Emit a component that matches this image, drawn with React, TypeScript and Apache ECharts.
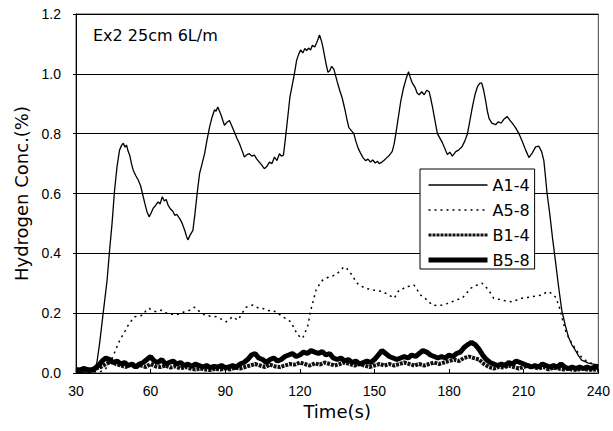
import React, { useEffect, useRef } from "react";
import * as echarts from "echarts";

const titleText = "Ex2 25cm 6L/m";
const xName = "Time(s)";
const yName = "Hydrogen Conc.(%)";
const seriesNames = ["A1-4", "A5-8", "B1-4", "B5-8"];

// A1-4 : [time (s), concentration (%)]
const a14: [number, number][] = [
  [30, 0.003], [32, 0.002], [34, 0.004], [36, 0.003], [37.5, 0.005], [38.5, 0.04], [39.5, 0.1], [40.5, 0.17],
  [41.5, 0.24], [42.5, 0.31], [43.5, 0.41], [44.5, 0.5], [45.5, 0.61], [46.5, 0.69], [47.5, 0.745], [48.3, 0.76],
  [49, 0.768], [49.7, 0.755], [50.3, 0.762], [51, 0.74], [51.6, 0.728], [52.3, 0.7], [53, 0.678], [54, 0.66],
  [55, 0.645], [56, 0.625], [57, 0.59], [57.7, 0.566], [58.5, 0.54], [59.4, 0.522], [60.2, 0.535], [61, 0.55],
  [62, 0.56], [63, 0.572], [63.8, 0.565], [64.7, 0.589], [65.5, 0.575], [66.3, 0.58], [67, 0.561], [68, 0.548],
  [69, 0.54], [69.7, 0.527], [70.5, 0.53], [71.7, 0.516], [72.7, 0.5], [73.7, 0.477], [74.5, 0.455], [75, 0.445],
  [75.8, 0.46], [77, 0.477], [77.8, 0.53], [78.4, 0.577], [79, 0.62], [79.7, 0.667], [80.7, 0.7], [81.7, 0.733],
  [82.7, 0.78], [83.7, 0.822], [84.7, 0.855], [85.7, 0.88], [86.3, 0.875], [87, 0.889], [87.7, 0.875], [88.4, 0.861],
  [89, 0.845], [89.7, 0.828], [90.7, 0.838], [91.7, 0.844], [92.7, 0.825], [93.7, 0.805], [94.7, 0.785], [95.7, 0.767],
  [96.7, 0.745], [97.7, 0.722], [98.7, 0.73], [99.7, 0.733], [100.7, 0.725], [101.7, 0.728], [102.7, 0.715], [103.7, 0.705],
  [104.7, 0.695], [105.7, 0.683], [106.7, 0.69], [107.8, 0.705], [108.8, 0.7], [109.8, 0.722], [110.8, 0.71], [111.8, 0.733],
  [112.6, 0.725], [113.4, 0.728], [114, 0.77], [114.7, 0.822], [115.4, 0.875], [116, 0.922], [117, 0.965], [117.8, 1.0],
  [118.7, 1.045], [119.5, 1.065], [120.3, 1.08], [121.2, 1.07], [122, 1.085], [122.7, 1.078], [123.5, 1.086], [124.3, 1.08],
  [125, 1.095], [126, 1.09], [126.8, 1.105], [127.4, 1.118], [127.9, 1.13], [128.5, 1.115], [129, 1.1], [129.7, 1.07],
  [130.5, 1.035], [131.3, 1.005], [132, 1.01], [132.8, 1.025], [133.7, 1.015], [134.5, 0.99], [135.3, 0.965], [136.2, 0.94],
  [137, 0.92], [138, 0.885], [139, 0.845], [139.7, 0.82], [140.7, 0.81], [141.7, 0.8], [142.5, 0.775], [143.5, 0.75],
  [144.4, 0.735], [145.4, 0.72], [146.4, 0.71], [147.4, 0.715], [148.4, 0.705], [149.3, 0.712], [150.3, 0.702], [151.2, 0.708],
  [151.9, 0.7], [153, 0.705], [154, 0.712], [155, 0.72], [156, 0.728], [157.1, 0.74], [157.9, 0.765], [158.6, 0.8],
  [159.6, 0.855], [160.6, 0.91], [161.6, 0.95], [162.6, 0.98], [163.2, 0.995], [163.7, 1.007], [164.5, 0.985], [165.3, 0.968],
  [166.3, 0.955], [167.2, 0.935], [168, 0.93], [169, 0.94], [170, 0.93], [171, 0.945], [172, 0.94], [172.7, 0.915],
  [173.3, 0.89], [174.3, 0.845], [175.3, 0.8], [176.3, 0.785], [177.3, 0.77], [178.3, 0.75], [179.3, 0.73], [180.3, 0.738],
  [181.3, 0.725], [182.7, 0.74], [183.8, 0.745], [185.2, 0.756], [186.3, 0.775], [187.4, 0.8], [188.4, 0.845], [189.4, 0.89],
  [190.4, 0.93], [191.4, 0.957], [192.3, 0.968], [193.1, 0.97], [193.9, 0.945], [194.7, 0.91], [195.4, 0.875], [196.1, 0.85],
  [197.2, 0.835], [198.7, 0.83], [199.8, 0.84], [200.9, 0.835], [202, 0.848], [203.4, 0.857], [204.4, 0.845], [205.4, 0.835],
  [206.7, 0.82], [208.1, 0.8], [209.4, 0.775], [210.8, 0.745], [212.1, 0.72], [213.4, 0.735], [214.8, 0.756], [216.1, 0.758],
  [217.2, 0.74], [218.1, 0.71], [218.7, 0.66], [219.4, 0.6], [220.5, 0.53], [221.6, 0.45], [222.7, 0.378], [224, 0.29],
  [225.3, 0.21], [226.7, 0.16], [228, 0.12], [229.3, 0.095], [230.7, 0.077], [232, 0.058], [233.3, 0.043], [234.7, 0.038],
  [236, 0.033], [238, 0.03], [240, 0.027],
];

// A5-8
const a58: [number, number][] = [
  [30, 0.002], [36, 0.003], [40, 0.005], [42, 0.015], [44, 0.04], [45.6, 0.07], [47, 0.1], [48.3, 0.12],
  [49.7, 0.14], [51, 0.16], [52.3, 0.175], [53.6, 0.188], [55.3, 0.19], [57, 0.194], [58.2, 0.21], [59.4, 0.216],
  [60.8, 0.208], [62.3, 0.205], [64.4, 0.21], [66.4, 0.2], [68, 0.198], [69.7, 0.194], [71.7, 0.198], [73.7, 0.205],
  [75.7, 0.21], [77.7, 0.22], [79.7, 0.205], [81.7, 0.194], [84, 0.19], [86.4, 0.188], [88.4, 0.18], [90.4, 0.171],
  [91.7, 0.18], [93, 0.188], [95.1, 0.177], [96.8, 0.2], [98.4, 0.22], [101.1, 0.227], [103.1, 0.218], [105.1, 0.216],
  [107.1, 0.208], [109.1, 0.21], [111.1, 0.2], [113.1, 0.188], [114.7, 0.18], [116.4, 0.171], [117.7, 0.15], [119.1, 0.127],
  [121.1, 0.116], [123.1, 0.155], [124.4, 0.21], [125.5, 0.245], [126.5, 0.277], [127.8, 0.295], [129.1, 0.31], [131.8, 0.322],
  [133.4, 0.325], [135.1, 0.333], [136.5, 0.345], [137.8, 0.355], [138.8, 0.35], [139.8, 0.339], [141.1, 0.327], [142.5, 0.305],
  [143.8, 0.294], [146.5, 0.283], [148.1, 0.28], [149.8, 0.277], [151.5, 0.275], [153.2, 0.272], [155.5, 0.262], [157.9, 0.25],
  [159.9, 0.277], [161.2, 0.28], [162.5, 0.288], [164.2, 0.29], [165.9, 0.294], [167.2, 0.278], [168.6, 0.26], [171.2, 0.244],
  [173.2, 0.227], [175.2, 0.225], [177.2, 0.227], [179.2, 0.232], [181.2, 0.238], [183.2, 0.245], [185.2, 0.25], [186.9, 0.265],
  [188.6, 0.283], [191.2, 0.294], [193.2, 0.3], [194.5, 0.29], [195.9, 0.277], [197.9, 0.25], [199.6, 0.247], [201.3, 0.244],
  [203.3, 0.24], [205.3, 0.238], [207.3, 0.244], [209.3, 0.25], [211.3, 0.252], [213.3, 0.255], [215.3, 0.258], [217.3, 0.26],
  [218.7, 0.268], [220, 0.272], [221.3, 0.265], [222.7, 0.255], [223.7, 0.235], [224.7, 0.21], [225.7, 0.175], [226.7, 0.144],
  [228, 0.12], [229.3, 0.1], [230.7, 0.082], [232, 0.066], [233.3, 0.053], [234.7, 0.043], [236, 0.038], [237.3, 0.032],
  [240, 0.025],
];

// B1-4
const b14: [number, number][] = [
  [30, 0.008], [32, 0.01], [34, 0.008], [36, 0.012], [38, 0.015], [40, 0.02], [42, 0.03], [44, 0.038],
  [46, 0.03], [48, 0.025], [50, 0.02], [52, 0.028], [54, 0.02], [56, 0.025], [58, 0.02], [60, 0.03],
  [62, 0.022], [64, 0.02], [66, 0.025], [68, 0.018], [70, 0.022], [72, 0.015], [74, 0.02], [76, 0.015],
  [78, 0.012], [80, 0.015], [82, 0.012], [84, 0.01], [86, 0.014], [88, 0.012], [90, 0.015], [92, 0.012],
  [94, 0.018], [96, 0.015], [98, 0.02], [100, 0.025], [102, 0.03], [104, 0.025], [106, 0.02], [108, 0.028],
  [110, 0.022], [112, 0.02], [114, 0.025], [116, 0.03], [118, 0.028], [120, 0.035], [122, 0.03], [124, 0.025],
  [126, 0.032], [128, 0.028], [130, 0.035], [132, 0.03], [134, 0.025], [136, 0.03], [138, 0.035], [140, 0.03],
  [142, 0.025], [144, 0.03], [146, 0.025], [148, 0.02], [150, 0.025], [152, 0.03], [154, 0.025], [156, 0.03],
  [158, 0.025], [160, 0.03], [162, 0.035], [164, 0.03], [166, 0.025], [168, 0.03], [170, 0.025], [172, 0.03],
  [174, 0.035], [176, 0.03], [178, 0.035], [180, 0.04], [182, 0.045], [184, 0.04], [186, 0.05], [188, 0.055],
  [190, 0.05], [192, 0.045], [194, 0.03], [196, 0.02], [198, 0.015], [200, 0.02], [202, 0.018], [204, 0.025],
  [206, 0.02], [208, 0.015], [210, 0.02], [212, 0.025], [214, 0.02], [216, 0.015], [218, 0.02], [220, 0.012],
  [222, 0.018], [224, 0.015], [226, 0.012], [228, 0.015], [230, 0.01], [232, 0.012], [234, 0.015], [236, 0.01],
  [238, 0.012], [240, 0.01],
];

// B5-8
const b58: [number, number][] = [
  [30, 0.012], [31.5, 0.01], [33, 0.015], [34.5, 0.012], [36, 0.01], [37.5, 0.015], [39, 0.025], [40.5, 0.04],
  [42, 0.05], [43.5, 0.045], [45, 0.035], [46.5, 0.04], [48, 0.03], [49.5, 0.035], [51, 0.025], [52.5, 0.03],
  [54, 0.02], [55.5, 0.03], [57, 0.035], [58.5, 0.045], [60, 0.055], [61.5, 0.04], [63, 0.035], [64.5, 0.045],
  [66, 0.03], [67.5, 0.035], [69, 0.04], [70.5, 0.03], [72, 0.035], [73.5, 0.025], [75, 0.03], [76.5, 0.022],
  [78, 0.03], [79.5, 0.025], [81, 0.02], [82.5, 0.025], [84, 0.018], [85.5, 0.022], [87, 0.02], [88.5, 0.025],
  [90, 0.018], [91.5, 0.02], [93, 0.025], [94.5, 0.02], [96, 0.03], [97.5, 0.035], [99, 0.045], [100.5, 0.06],
  [102, 0.065], [103.5, 0.05], [105, 0.045], [106.5, 0.035], [108, 0.045], [109.5, 0.05], [111, 0.04], [112.5, 0.045],
  [114, 0.055], [115.5, 0.06], [117, 0.065], [118.5, 0.055], [120, 0.06], [121.5, 0.07], [123, 0.065], [124.5, 0.075],
  [126, 0.07], [127.5, 0.065], [129, 0.072], [130.5, 0.06], [132, 0.065], [133.5, 0.05], [135, 0.045], [136.5, 0.05],
  [138, 0.04], [139.5, 0.045], [141, 0.035], [142.5, 0.04], [144, 0.03], [145.5, 0.035], [147, 0.04], [148.5, 0.035],
  [150, 0.045], [151.5, 0.06], [153, 0.075], [154.5, 0.065], [156, 0.055], [157.5, 0.05], [159, 0.045], [160.5, 0.05],
  [162, 0.055], [163.5, 0.05], [165, 0.06], [166.5, 0.055], [168, 0.065], [169.5, 0.075], [171, 0.07], [172.5, 0.06],
  [174, 0.055], [175.5, 0.05], [177, 0.055], [178.5, 0.05], [180, 0.06], [181.5, 0.055], [183, 0.065], [184.5, 0.07],
  [186, 0.085], [187.5, 0.095], [189, 0.102], [190.5, 0.095], [192, 0.08], [193.5, 0.06], [195, 0.045], [196.5, 0.035],
  [198, 0.03], [199.5, 0.025], [201, 0.03], [202.5, 0.025], [204, 0.035], [205.5, 0.03], [207, 0.04], [208.5, 0.035],
  [210, 0.03], [211.5, 0.025], [213, 0.02], [214.5, 0.025], [216, 0.02], [217.5, 0.03], [219, 0.025], [220.5, 0.02],
  [222, 0.025], [223.5, 0.02], [225, 0.03], [226.5, 0.02], [228, 0.015], [229.5, 0.02], [231, 0.015], [232.5, 0.02],
  [234, 0.015], [235.5, 0.02], [237, 0.015], [238.5, 0.02], [240, 0.018],
];

const xMin = 30;
const xMax = 240;
const xStep = 30;
const yMin = 0;
const yMax = 1.2;
const yStep = 0.2;

export default function App() {
  const ref = useRef<HTMLDivElement>(null);
  useEffect(() => {
    if (!ref.current) return;
    const chart = echarts.init(ref.current, null, { renderer: "svg" });
    const seriesData = [a14, a58, b14, b58];
    const lineStyles = [
      { color: "#000", width: 1.3, type: "solid" as any },
      { color: "#000", width: 1.5, type: [2, 4] as any },
      { color: "#111", width: 4, type: [3, 1] as any },
      { color: "#000", width: 5, type: "solid" as any },
    ];
    const legendLineWidths = [1.3, 1.5, 3, 5];
    chart.setOption({
      animation: false,
      backgroundColor: "#fff",
      title: {
        text: titleText,
        left: 93,
        top: 27,
        padding: 0,
        textStyle: { fontFamily: "DejaVu Sans", fontSize: 16, fontWeight: "normal", color: "#000" },
      },
      grid: {
        left: 76,
        right: 13,
        top: 14,
        bottom: 58,
        show: true,
        borderColor: "#444",
        borderWidth: 1,
        backgroundColor: "transparent",
      },
      legend: {
        orient: "vertical",
        left: 420,
        top: 169,
        padding: [8, 5, 1, 6],
        itemWidth: 59,
        itemHeight: 16,
        itemGap: 9,
        backgroundColor: "#fff",
        borderColor: "#000",
        borderWidth: 1,
        borderRadius: 0,
        data: seriesNames.map((n, i) => ({
          name: n,
          lineStyle: { width: legendLineWidths[i] },
        })),
        itemStyle: { opacity: 0 },
        textStyle: { fontFamily: "DejaVu Sans", fontSize: 16, color: "#000", lineHeight: 16 },
      },
      xAxis: {
        type: "value",
        min: xMin,
        max: xMax,
        interval: xStep,
        name: xName,
        nameLocation: "middle",
        nameGap: 26,
        nameTextStyle: { fontFamily: "DejaVu Sans", fontSize: 18, color: "#000" },
        axisLine: { show: true, lineStyle: { color: "#000", width: 1 } },
        axisTick: { show: true, inside: true, length: 4, lineStyle: { color: "#000" } },
        axisLabel: { fontFamily: "Liberation Sans", fontSize: 14, color: "#000", margin: 11 },
        splitLine: { show: false },
      },
      yAxis: {
        type: "value",
        min: yMin,
        max: yMax,
        interval: yStep,
        name: yName,
        nameLocation: "middle",
        nameGap: 45,
        nameTextStyle: { fontFamily: "DejaVu Sans", fontSize: 18, color: "#000" },
        axisLine: { show: true, lineStyle: { color: "#000", width: 1 } },
        axisTick: { show: true, length: 3, lineStyle: { color: "#000" } },
        axisLabel: {
          fontFamily: "Liberation Sans",
          fontSize: 14,
          color: "#000",
          margin: 15,
          formatter: (v: number) => v.toFixed(1),
        },
        splitLine: { show: true, lineStyle: { color: "#000", width: 1 } },
      },
      series: seriesNames.map((name, i) => ({
        name,
        type: "line",
        data: seriesData[i],
        symbol: "none",
        showSymbol: false,
        lineStyle: lineStyles[i],
        itemStyle: { color: "#000" },
        z: 2 + i,
      })),
    });
    return () => chart.dispose();
  }, []);
  return (
    <div
      ref={ref}
      style={{ position: "fixed", left: 0, top: 0, width: 613, height: 431 }}
    />
  );
}
